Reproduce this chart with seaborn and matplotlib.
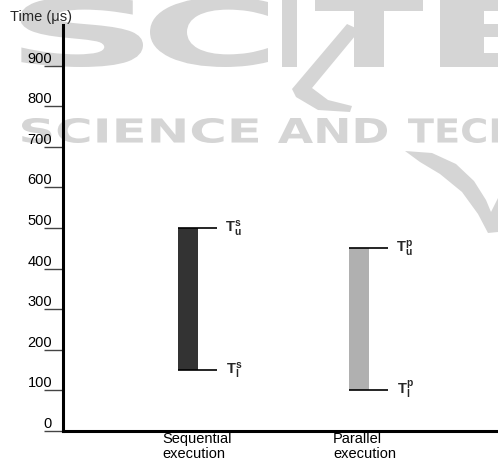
import numpy as np
import pandas as pd
import matplotlib
matplotlib.use("Agg")
import matplotlib.pyplot as plt
import seaborn as sns
from matplotlib.textpath import TextPath
from matplotlib.font_manager import FontProperties
from matplotlib.patches import PathPatch, Polygon
from matplotlib.transforms import Affine2D, IdentityTransform, ScaledTranslation

# ---- data ----
categories = ["Sequential\nexecution", "Parallel\nexecution"]
lower_bound = [150, 100]
upper_bound = [500, 450]
bar_colors = ["#333333", "#b0b0b0"]
upper_labels = [r"$\mathbf{T}^{\mathbf{s}}_{\mathbf{u}}$", r"$\mathbf{T}^{\mathbf{p}}_{\mathbf{u}}$"]
lower_labels = [r"$\mathbf{T}^{\mathbf{s}}_{\mathbf{l}}$", r"$\mathbf{T}^{\mathbf{p}}_{\mathbf{l}}$"]
y_ticks = [0, 100, 200, 300, 400, 500, 600, 700, 800, 900]
y_title = "Time (μs)"

# ---- style ----
sns.set_style("white")
plt.rcParams["font.family"] = ["Liberation Sans", "DejaVu Sans"]
plt.rcParams["mathtext.fontset"] = "custom"
plt.rcParams["mathtext.rm"] = "Liberation Sans"
plt.rcParams["mathtext.bf"] = "Liberation Sans:bold"
plt.rcParams["mathtext.it"] = "Liberation Sans:italic"

W, H = 498, 465
fig = plt.figure(figsize=(W / 100, H / 100), dpi=100)
fig.patch.set_facecolor("white")

# ---- faint publisher stamp behind the chart ----
WM = "#d5d5d5"
wm_font = FontProperties(family="DejaVu Sans", weight="bold")


def stamp(s, x0, x1, top, bottom, ref=None):
    """Fit the glyph outline of `ref` (default `s`) into a pixel box and draw `s` with that scaling."""
    rb = TextPath((0, 0), ref or s, size=100, prop=wm_font).get_extents()
    sx = (x1 - x0) / rb.width
    sy = (bottom - top) / rb.height
    p = TextPath((0, 0), s, size=100, prop=wm_font)
    tr = Affine2D().translate(-rb.x0, -rb.y0).scale(sx, sy).translate(x0, H - bottom)
    fig.add_artist(PathPatch(tr.transform_path(p), fc=WM, ec="none",
                             transform=IdentityTransform(), zorder=-5))


def blob(points):
    pts = [(x, H - y) for x, y in points]
    fig.add_artist(Polygon(pts, closed=True, fc=WM, ec="none",
                           transform=IdentityTransform(), zorder=-5))


stamp("S", 20, 143, -3, 67)
stamp("C", 150, 268, -3, 67)
stamp("I", 282, 297, -3, 67)
stamp("T", 315, 423, -3, 67)
stamp("E", 440, 560, -3, 67)
blob([(347, 24), (360, 30), (312, 88), (328, 100), (352, 106), (350, 112),
      (318, 110), (296, 97), (292, 89)])
stamp("SCIENCE", 22, 258, 118, 143)
stamp("AND", 278, 387, 118, 143)
stamp("TECHNOLOGY", 408, 408 + 55 * 5.3, 118, 143, ref=None)
blob([(405, 151), (432, 153), (456, 164), (474, 181), (486, 200), (491, 212),
      (498, 198), (498, 232), (488, 233), (478, 214), (462, 192), (440, 174), (420, 162)])

# ---- axes ----
ax = fig.add_axes([63 / W, 1 - 431 / H, 435 / W, (431 - 25) / H])
ax.patch.set_alpha(0)

bar_w = 0.117
df = pd.DataFrame({
    "mode": categories,
    "span": np.subtract(upper_bound, lower_bound),
    "start": lower_bound,
})
sns.barplot(data=df, x="mode", y="span", bottom=df["start"].to_numpy(),
            width=bar_w, errorbar=None, color="#333333", linewidth=0,
            saturation=1, ax=ax)
for patch, c in zip(ax.patches, bar_colors):
    patch.set_facecolor(c)

# bracket lines and bound labels
for i, (lo, hi) in enumerate(zip(lower_bound, upper_bound)):
    ax.hlines([lo, hi], i - bar_w / 2, i + 0.172, colors="black", lw=1.2)
    ax.annotate(upper_labels[i], (i + 0.215, hi), xytext=(0, -3),
                textcoords="offset points", ha="left", va="baseline", fontsize=10.5)
    ax.annotate(lower_labels[i], (i + 0.222, lo), xytext=(0, -3),
                textcoords="offset points", ha="left", va="baseline", fontsize=10.5)

ax.set_xlim(-0.731, 1.813)
ax.set_ylim(0, 1000)

# spines
for side in ["top", "right"]:
    ax.spines[side].set_visible(False)
for side in ["left", "bottom"]:
    ax.spines[side].set_visible(True)
    ax.spines[side].set_color("black")
    ax.spines[side].set_linewidth(2.2)

# y ticks: labels sit above the tick marks
ax.set_yticks(y_ticks)
ax.set_yticklabels([str(v) for v in y_ticks])
ax.tick_params(axis="y", left=True, length=14, width=1.0, color="#444444",
               pad=-6.1, labelsize=10.5, labelcolor="black", direction="out")
for lab in ax.get_yticklabels():
    lab.set_verticalalignment("bottom")

# x labels: left-aligned under the bars
ax.set_xlabel("")
ax.set_ylabel("")
ax.tick_params(axis="x", bottom=False, length=0, pad=0.5, labelsize=10.5,
               labelcolor="black")
shift = ScaledTranslation(-26 / 100, 0, fig.dpi_scale_trans)
for lab in ax.get_xticklabels():
    lab.set_horizontalalignment("left")
    lab.set_linespacing(1.1)
    lab.set_transform(lab.get_transform() + shift)

fig.text(10 / W, 1 - 21 / H, y_title, fontsize=10.5, ha="left", va="baseline")

fig.savefig("out.png", dpi=100)
